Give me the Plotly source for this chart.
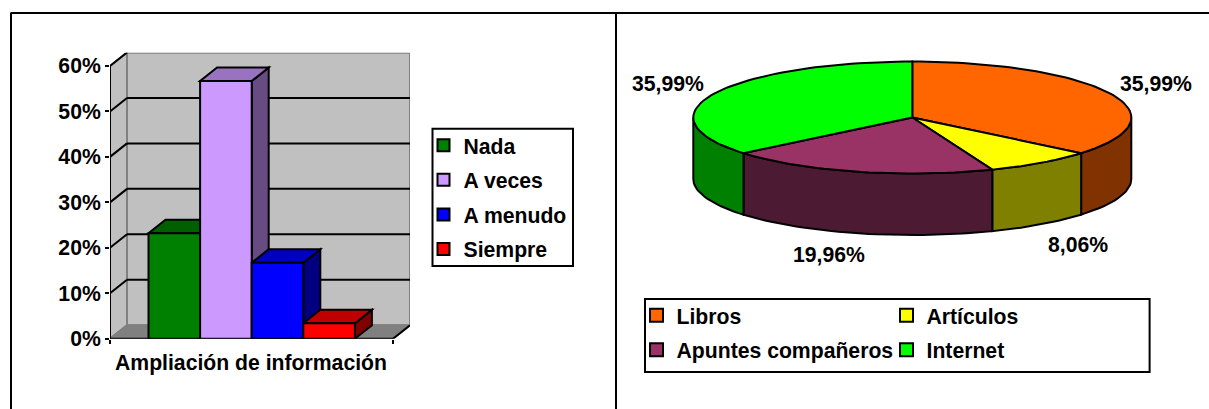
import math
import plotly.graph_objects as go

# ---------- data ----------
bar_categories = ["Nada", "A veces", "A menudo", "Siempre"]
bar_values = [23.2, 56.7, 16.7, 3.4]
bar_axis_title = "Ampliación de información"
y_ticks = [0, 10, 20, 30, 40, 50, 60]

pie_categories = ["Libros", "Artículos", "Apuntes compañeros", "Internet"]
pie_values = [35.99, 8.06, 19.96, 35.99]

# ---------- styles ----------
bar_front = ["#008000", "#CC99FF", "#0000FF", "#FF0000"]
bar_side = ["#004000", "#664C80", "#000080", "#800000"]
bar_top = ["#006000", "#9973BF", "#0000C0", "#C00000"]
pie_top = ["#FF6600", "#FFFF00", "#993366", "#00FF00"]
pie_side = ["#803300", "#808000", "#4D1A33", "#008000"]
# label offsets from pie centre in pixels
pie_label_offset = [(244, -34), (166, 127), (-83, 137), (-244, -34)]

W, H = 1209, 409
FONT = dict(family="Liberation Sans", size=21.2, color="black", weight=700)
LW = 2

# ---------- bar chart frame (pixels of the page) ----------
ax_left, wall_right, y0_px, y60_px, wall_top_px = 110, 410, 338.7, 66, 52.7
bar_w_px = 51.6
gap_px = 38.5
depth_px = 17
units_per_px_y = 60 / (y0_px - y60_px)
dy = 13.5 * units_per_px_y
dx = depth_px / bar_w_px
x_max = (wall_right - ax_left) / bar_w_px
front_len = x_max - dx
y_max = (y0_px - wall_top_px) * units_per_px_y
gap = gap_px / bar_w_px


def poly(pts):
    return "M" + " L".join(f"{x},{y}" for x, y in pts) + " Z"


def sh(pts, fill, color="black", width=LW):
    return dict(type="path", path=poly(pts), xref="x", yref="y", layer="below",
                fillcolor=fill, line=dict(color=color, width=width))


def seg(x0, y0, x1, y1, color="black"):
    return dict(type="line", x0=x0, y0=y0, x1=x1, y1=y1, xref="x", yref="y", layer="below",
                line=dict(color=color, width=LW))


shapes = []
GREY, DGREY = "#C0C0C0", "#808080"
shapes.append(sh([(dx, dy), (dx, y_max), (x_max, y_max), (x_max, dy)], GREY, DGREY))
shapes.append(sh([(0, 0), (0, 60), (dx, 60 + dy), (dx, dy)], GREY, DGREY))
shapes.append(sh([(0, 0), (dx, dy), (x_max, dy), (front_len, 0)], DGREY, DGREY))
for v in y_ticks[1:-1]:
    shapes.append(seg(dx, v + dy, x_max, v + dy))
for v in y_ticks[1:]:
    shapes.append(seg(0, v, dx, v + dy))
shapes.append(seg(0, 0, 0, 60))
shapes.append(seg(0, 0, front_len, 0))
shapes.append(seg(front_len, 0, x_max, dy))

fig = go.Figure()
for i, (name, val) in enumerate(zip(bar_categories, bar_values)):
    x0 = gap + i
    x1 = x0 + 1
    shapes.append(sh([(x1, 0), (x1 + dx, dy), (x1 + dx, val + dy), (x1, val)], bar_side[i]))
    shapes.append(sh([(x0, val), (x1, val), (x1 + dx, val + dy), (x0 + dx, val + dy)], bar_top[i]))
    fig.add_trace(go.Bar(x=[x0 + 0.5], y=[val], width=1, name=name, legendgroup=name,
                         marker=dict(color=bar_front[i], line=dict(color="black", width=LW)),
                         hoverinfo="skip", cliponaxis=False, legend="legend"))

# ---------- pie ----------
cx, cy, rx = 912.3, 117.5, 219
tilt, thick = 56 / 219, 61.5 / 219


def pt(theta_deg, drop=0.0):
    t = math.radians(theta_deg)
    return math.sin(t), tilt * math.cos(t) - drop


total = sum(pie_values)
edges = [0.0]
for v in pie_values:
    edges.append(edges[-1] + v / total * 360)


def arc(a, b):
    n = max(2, int(abs(b - a) / 2))
    return [a + (b - a) * k / n for k in range(n + 1)]


for i in range(4):
    a, b = max(edges[i], 90), min(edges[i + 1], 270)
    if b > a:
        ang = arc(a, b)
        pts = [pt(t) for t in ang] + [pt(t, thick) for t in reversed(ang)]
        pts.append(pts[0])
        fig.add_trace(go.Scatter(x=[p[0] for p in pts], y=[p[1] for p in pts], mode="lines",
                                 fill="toself", fillcolor=pie_side[i], line=dict(color="black", width=LW),
                                 xaxis="x2", yaxis="y2", showlegend=False, hoverinfo="skip"))
for i in range(4):
    pts = [(0, 0)] + [pt(t) for t in arc(edges[i], edges[i + 1])] + [(0, 0)]
    fig.add_trace(go.Scatter(x=[p[0] for p in pts], y=[p[1] for p in pts], mode="lines",
                             fill="toself", fillcolor=pie_top[i], line=dict(color="black", width=LW),
                             xaxis="x2", yaxis="y2", showlegend=False, hoverinfo="skip"))
# legend entries of the pie (two columns -> two legends)
for i, name in enumerate(pie_categories):
    fig.add_trace(go.Scatter(x=[None], y=[None], mode="markers", name=name, legendgroup=name,
                             marker=dict(symbol="square", size=13, color=pie_top[i],
                                         line=dict(color="black", width=LW)),
                             xaxis="x2", yaxis="y2", hoverinfo="skip",
                             legend="legend2" if i % 2 == 0 else "legend3"))

annotations = [dict(text=bar_axis_title, xref="paper", yref="paper", x=251.2 / W, y=1 - 362.7 / H,
                    showarrow=False, font=FONT, xanchor="center", yanchor="middle")]
for v, (ox, oy) in zip(pie_values, pie_label_offset):
    annotations.append(dict(text=f"{v:.2f}%".replace(".", ","), xref="x2", yref="y2",
                            x=ox / rx, y=-oy / rx, showarrow=False, font=FONT,
                            xanchor="center", yanchor="middle"))


def page_rect(x0, y0, x1, y1, fill="white"):
    return dict(type="rect", xref="paper", yref="paper", x0=x0 / W, x1=x1 / W,
                y0=1 - y1 / H, y1=1 - y0 / H, fillcolor=fill, layer="below",
                line=dict(color="black", width=LW))


def page_line(x0, y0, x1, y1):
    return dict(type="line", xref="paper", yref="paper", x0=x0 / W, x1=x1 / W,
                y0=1 - y0 / H, y1=1 - y1 / H, line=dict(color="black", width=LW))


frame = [page_line(10.5, 13, W, 13), page_line(11, 13, 11, H), page_line(616, 13, 616, H),
         page_rect(432.5, 128.7, 573, 266), page_rect(645, 299, 1149.6, 372)]


def legend_at(x, y, gap_rows):
    return dict(x=x / W, y=1 - y / H, xanchor="left", yanchor="top", bgcolor="rgba(0,0,0,0)",
                borderwidth=0, font=FONT, tracegroupgap=gap_rows, traceorder="grouped",
                itemclick=False, itemdoubleclick=False)


fig.update_layout(
    width=W, height=H, margin=dict(l=0, r=0, t=0, b=0), paper_bgcolor="white", plot_bgcolor="rgba(0,0,0,0)",
    barmode="overlay", shapes=frame + shapes, annotations=annotations, showlegend=True,
    xaxis=dict(domain=[ax_left / W, wall_right / W], range=[0, x_max], showgrid=False, zeroline=False,
               tickmode="array", tickvals=[0, front_len], ticktext=["", ""], ticks="outside", ticklen=4,
               tickwidth=LW, tickcolor="black", showline=False, fixedrange=True, automargin=False),
    yaxis=dict(domain=[1 - y0_px / H, 1 - wall_top_px / H], range=[0, y_max], showgrid=False, zeroline=False,
               tickmode="array", tickvals=y_ticks, ticktext=[f"{v}%" for v in y_ticks], ticks="outside",
               ticklen=4, tickwidth=LW, tickcolor="black", tickfont=FONT, showline=False, fixedrange=True,
               automargin=False),
    xaxis2=dict(domain=[620 / W, 1], range=[(620 - cx) / rx, (W - cx) / rx], visible=False,
                anchor="y2", fixedrange=True, automargin=False),
    yaxis2=dict(domain=[0, 1], range=[-(H - cy) / rx, cy / rx], visible=False, anchor="x2", fixedrange=True,
                automargin=False),
    legend=legend_at(423.5, 125, 4),
    legend2=legend_at(636.5, 295, 4),
    legend3=legend_at(886.5, 295, 4),
)

fig.write_html("out.html", config={"displayModeBar": False},
               post_script="document.body.style.margin='0';")
